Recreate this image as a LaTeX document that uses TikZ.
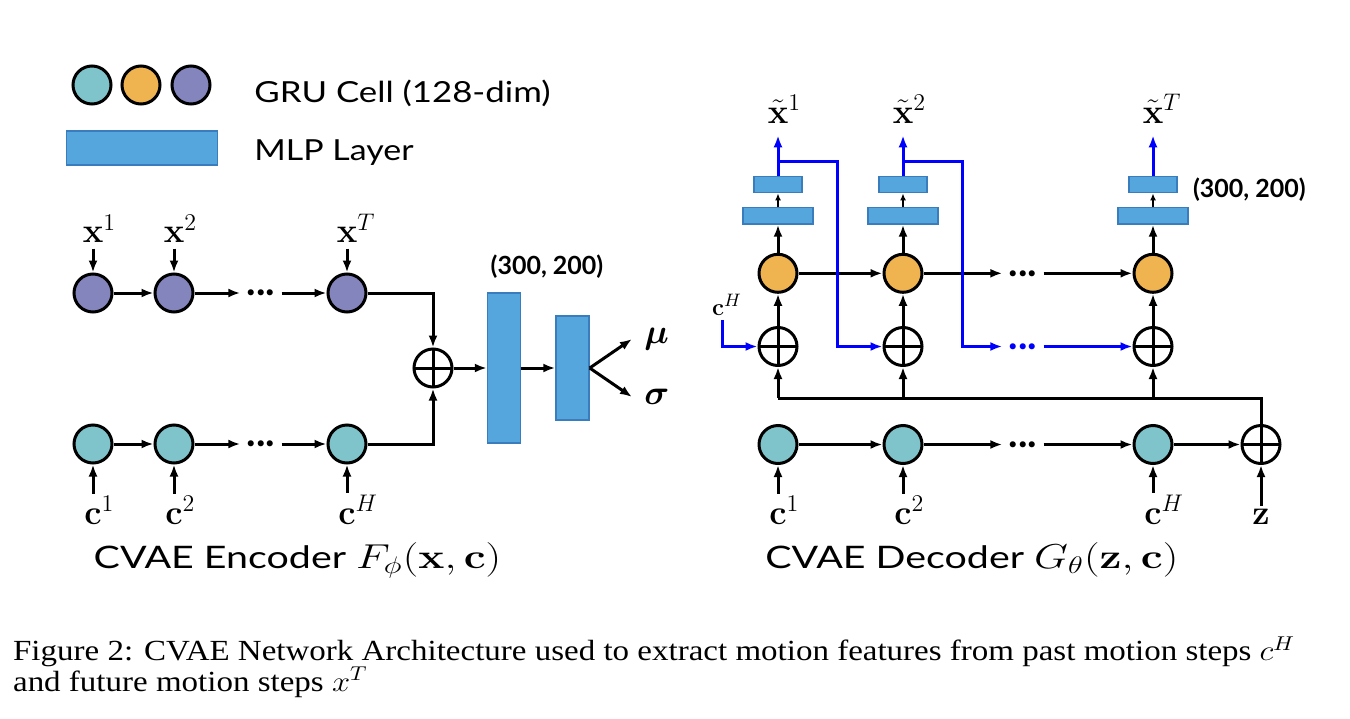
\documentclass[tikz,border=0pt]{standalone}
\usepackage{amsmath}
\usepackage{amssymb}
\usepackage{bm}
\usepackage{graphicx}
\usepackage[no-math]{fontspec}
\newfontfamily\labfont{Lato}
\newfontfamily\capfont{Liberation Serif}
\usetikzlibrary{arrows.meta,positioning,calc}
\definecolor{tealcell}{RGB}{127,196,202}
\definecolor{orangecell}{RGB}{239,180,80}
\definecolor{purplecell}{RGB}{133,133,190}
\definecolor{mlpblue}{RGB}{84,166,220}
\definecolor{mlpedge}{RGB}{58,125,190}

\begin{document}
\begin{tikzpicture}[x=0.5pt,y=-0.5pt,>={Latex[length=6pt,width=4.5pt]},
    cell/.style={circle,draw,line width=1.5pt,inner sep=0pt,minimum size=19pt},
    sum/.style={circle,draw,line width=1.5pt,inner sep=0pt,minimum size=19pt,
      path picture={\draw[line width=1.5pt] (path picture bounding box.north) -- (path picture bounding box.south)
        (path picture bounding box.west) -- (path picture bounding box.east);}},
    mlp/.style={rectangle,draw=mlpedge,fill=mlpblue,line width=0.7pt,inner sep=0pt},
    lbl/.style={inner sep=0pt,font=\fontsize{17.5}{17.5}\selectfont},
    txt/.style={inner sep=0pt,font=\labfont\fontsize{14.5}{14.5}\selectfont},
    ttl/.style={inner sep=0pt,font=\labfont\fontsize{15.5}{15.5}\selectfont},
    dims/.style={inner sep=0pt,font=\labfont\bfseries\fontsize{12.5}{12.5}\selectfont},
    dots/.style={inner xsep=3pt,inner ysep=0pt,font=\labfont\bfseries\fontsize{20}{20}\selectfont},
    link/.style={line width=1.5pt},
    tiny/.style={line width=0.8pt,-{Latex[length=3.5pt,width=3pt]}},
    fb/.style={line width=1.5pt,draw=blue}]
  \useasboundingbox (0,0) rectangle (1350,718);

  % Legend
  \node[cell,fill=tealcell] (lg1) at (92,85) {};
  \node[cell,fill=orangecell] (lg2) at (141,85) {};
  \node[cell,fill=purplecell] (lg3) at (191,85) {};
  \node[mlp,minimum width=75.5pt,minimum height=17pt] (lgm) at (142,148) {};
  \node[txt,anchor=base west] (lgt1) at (254,102.7) {\scalebox{1.2}[1]{GRU Cell (128-dim)}};
  \node[txt,anchor=base west] (lgt2) at (254,160) {\scalebox{1.17}[1]{MLP Layer}};

  % Encoder
  \node[cell,fill=purplecell] (p1) at (93,293) {};
  \node[cell,fill=purplecell] (p2) at (174,293) {};
  \node[dots] (pd) at (261,293) {...};
  \node[cell,fill=purplecell] (p3) at (347,293) {};
  \node[cell,fill=tealcell] (t1) at (93,444) {};
  \node[cell,fill=tealcell] (t2) at (174,444) {};
  \node[dots] (td) at (261,444) {...};
  \node[cell,fill=tealcell] (t3) at (347,444) {};

  \node[lbl,anchor=base west] (x1) at (82.4,242.7) {$\mathbf{x}^1$};
  \node[lbl,anchor=base west] (x2) at (163.4,242.7) {$\mathbf{x}^2$};
  \node[lbl,anchor=base west] (x3) at (336.4,242.7) {$\mathbf{x}^T$};
  \node[lbl,anchor=base west] (c1) at (84,524) {$\mathbf{c}^1$};
  \node[lbl,anchor=base west] (c2) at (165,524) {$\mathbf{c}^2$};
  \node[lbl,anchor=base west] (c3) at (338,524) {$\mathbf{c}^H$};

  \foreach \i in {1,2,3} {
    \draw[->,link,shorten <=2.8pt] (x\i.south -| p\i) -- (p\i);
    \draw[->,link,shorten <=1pt] (c\i.north -| t\i) -- (t\i);
  }
  \draw[->,link] (p1) -- (p2);
  \draw[->,link] (p2) -- (pd.west);
  \draw[->,link] (pd.east) -- (p3);
  \draw[->,link] (t1) -- (t2);
  \draw[->,link] (t2) -- (td.west);
  \draw[->,link] (td.east) -- (t3);

  \node[sum] (esum) at (433,368) {};
  \draw[->,link] (p3) -| (esum);
  \draw[->,link] (t3) -| (esum);
  \node[mlp,minimum width=16.5pt,minimum height=75pt] (emlp1) at (504,368) {};
  \node[mlp,minimum width=16.5pt,minimum height=52pt] (emlp2) at (572.5,368) {};
  \draw[->,link] (esum) -- (emlp1);
  \draw[->,link] (emlp1) -- (emlp2);
  \node[dims] (edim) at (547,267) {(300, 200)};

  \coordinate (muend) at (632,339);
  \coordinate (sgend) at (632,397);
  \node[lbl,right=6pt of muend] (mu) {$\boldsymbol{\mu}$};
  \node[lbl,right=6pt of sgend] (sg) {$\boldsymbol{\sigma}$};
  \draw[->,link] (emlp2.east) -- (muend);
  \draw[->,link] (emlp2.east) -- (sgend);

  \node[ttl,anchor=base west] (etitle) at (93.3,568.3)
    {\scalebox{1.27}[1]{CVAE Encoder {\fontsize{16.5}{16.5}\selectfont$F_\phi(\mathbf{x},\mathbf{c})$}}};

  % Decoder
  \foreach \i/\cx in {1/778,2/903,3/1153} {
    \node[mlp,minimum width=24pt,minimum height=8pt] (sm\i) at (\cx,184.7) {};
    \node[mlp,minimum width=35pt,minimum height=8.3pt] (bg\i) at (\cx,215.7) {};
    \node[cell,fill=orangecell] (o\i) at (\cx,273.3) {};
    \node[sum] (s\i) at (\cx,346.5) {};
    \node[cell,fill=tealcell] (u\i) at (\cx,444.5) {};
    \draw[->,link] (o\i) -- (bg\i);
    \draw[tiny] (bg\i) -- (sm\i);
    \draw[->,link] (s\i) -- (o\i);
  }
  \node[sum] (zs) at (1261,444.5) {};
  \node[dots] (od) at (1023,273.3) {...};
  \node[dots] (ud) at (1023,444.5) {...};
  \node[dots,text=blue] (sd) at (1023,346.5) {...};

  \node[lbl,anchor=base west] (xt1) at (767.4,123.3) {$\tilde{\mathbf{x}}^1$};
  \node[lbl,anchor=base west] (xt2) at (892.4,123.3) {$\tilde{\mathbf{x}}^2$};
  \node[lbl,anchor=base west] (xt3) at (1142.4,123.3) {$\tilde{\mathbf{x}}^T$};
  \node[lbl,anchor=base west] (d1) at (769,524) {$\mathbf{c}^1$};
  \node[lbl,anchor=base west] (d2) at (894,524) {$\mathbf{c}^2$};
  \node[lbl,anchor=base west] (d3) at (1144,524) {$\mathbf{c}^H$};
  \node[lbl,anchor=base] (zl) at (1261,524) {$\mathbf{z}$};

  \foreach \i in {1,2,3} {
    \draw[->,fb,shorten >=5.8pt] (sm\i) -- (xt\i.south -| sm\i);
    \draw[->,link,shorten <=1pt] (d\i.north -| u\i) -- (u\i);
  }
  \draw[->,link,shorten <=1pt] (zl) -- (zs);

  \draw[->,link] (o1) -- (o2);
  \draw[->,link] (o2) -- (od.west);
  \draw[->,link] (od.east) -- (o3);
  \draw[->,link] (u1) -- (u2);
  \draw[->,link] (u2) -- (ud.west);
  \draw[->,link] (ud.east) -- (u3);
  \draw[->,link] (u3) -- (zs);

  % shared bus from z
  \coordinate (bus) at (778,398);
  \draw[link] (zs) |- (bus);
  \foreach \i in {1,2,3}
    \draw[->,link] (s\i |- bus) -- (s\i);

  % blue feedback
  \coordinate (cHstart) at (722,320);
  \node[inner sep=0pt,font=\fontsize{13}{13}\selectfont,anchor=base west] (cH) at (711.7,315) {$\mathbf{c}^H$};
  \draw[->,fb] (cHstart) |- (s1);
  \coordinate (br1) at (778,161);
  \coordinate (kn1) at (837,161);
  \coordinate (br2) at (903,161);
  \coordinate (kn2) at (962,161);
  \draw[->,fb] (br1) -- (kn1) |- (s2);
  \draw[->,fb] (br2) -- (kn2) |- (sd.west);
  \draw[->,fb] (sd.east) -- (s3);

  \node[dims,anchor=west] (ddim) at (1192.7,190) {(300, 200)};
  \node[ttl,anchor=base west] (dtitle) at (765,568.3)
    {\scalebox{1.27}[1]{CVAE Decoder {\fontsize{16.5}{16.5}\selectfont$G_\theta(\mathbf{z},\mathbf{c})$}}};

  % Caption
  \node[inner sep=0pt,anchor=base west,font=\capfont\fontsize{14.6}{14.6}\selectfont] (cap1) at (12.7,660.7)
    {\scalebox{1.13}[1]{Figure 2: CVAE Network Architecture used to extract motion features from past motion steps $c^H$}};
  \node[inner sep=0pt,anchor=base west,font=\capfont\fontsize{14.6}{14.6}\selectfont] (cap2) at (12.7,691)
    {\scalebox{1.13}[1]{and future motion steps $x^T$}};
\end{tikzpicture}
\end{document}
